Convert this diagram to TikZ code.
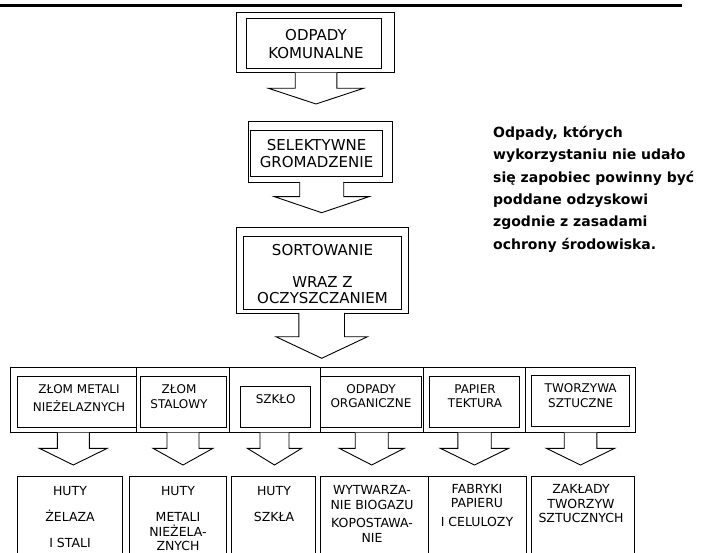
\documentclass[tikz,border=0pt]{standalone}
\usepackage{fontspec}
\setmainfont{DejaVu Sans}
\usetikzlibrary{calc,fit}

\tikzset{
  frame/.style={draw, line width=0.9pt, inner sep=0pt},
  bigtxt/.style={align=center, inner sep=0pt, font=\fontsize{15}{#1}\selectfont},
  bigtxt/.default=17,
  midtxt/.style={align=center, inner sep=0pt, font=\fontsize{12}{#1}\selectfont},
  midtxt/.default=14.5,
  smalltxt/.style={align=center, inner sep=0pt, font=\fontsize{12.5}{#1}\selectfont},
  smalltxt/.default=15,
  note/.style={align=left, inner sep=0pt, font=\bfseries\fontsize{14}{22.4}\selectfont},
  hollow/.style={draw, fill=white, line width=0.9pt, line join=miter},
}

% open block arrow: #1 box side it leaves, #2 tip, #3 stem half width,
% #4 wing half width, #5 head length
\newcommand{\hollowarrow}[5]{%
  \draw[hollow] ($(#2 |- #1)+(-#3,-0.5)$) -- ($(#2)+(-#3,-#5)$) -- ($(#2)+(-#4,-#5)$) -- (#2)
    -- ($(#2)+(#4,-#5)$) -- ($(#2)+(#3,-#5)$) -- ($(#2 |- #1)+(#3,-0.5)$);
}

\begin{document}
\begin{tikzpicture}[x=1pt,y=-1pt]
  \useasboundingbox (0,0) rectangle (704,553);
  \clip (0,0) rectangle (704,553);

  \draw[line width=3pt] (0,5.5) -- (682,5.5);

  % main chain
  \node[frame, fit={(236,12.7) (394.5,72.7)}] (komO) {};
  \node[frame, fit={(246.7,18.3) (381.7,68.3)}] (komI) {};
  \node[bigtxt=18.3] (kom) at (316,44.2) {ODPADY\\KOMUNALNE};

  \node[frame, fit={(248.3,121.7) (392.7,182)}] (selO) {};
  \node[frame, fit={(250,130) (382.7,176.7)}] (selI) {};
  \node[bigtxt=16.7] (sel) at (316.6,153.3) {SELEKTYWNE\\GROMADZENIE};

  \node[frame, fit={(236.7,227.3) (408.3,313)}] (sortO) {};
  \node[frame, fit={(243.3,236) (401.7,309)}] (sortI) {};
  \node[bigtxt=16.3] (sort) at (322.5,274) {SORTOWANIE\\[15.4pt]WRAZ Z\\OCZYSZCZANIEM};

  % fractions
  \node[frame, fit={(10.7,367.3) (136.7,432.7)}] (c1) {};
  \node[frame, fit={(136.7,367.3) (229.3,432.7)}] (c2) {};
  \node[frame, fit={(229.3,367.3) (320,432.7)}] (c3) {};
  \node[frame, fit={(320,367.3) (423.3,432.7)}] (c4) {};
  \node[frame, fit={(423.3,367.3) (525.7,432.7)}] (c5) {};
  \node[frame, fit={(525.7,367.3) (635,432.7)}] (c6) {};

  \node[frame, fit={(17.3,376.5) (136.7,427)}] (k1) {};
  \node[frame, fit={(140.7,376.5) (226,427)}] (k2) {};
  \node[frame, fit={(240.7,386) (310.7,427)}] (k3) {};
  \node[frame, fit={(320,376.5) (421.7,427)}] (k4) {};
  \node[frame, fit={(429.3,376.5) (519.3,427)}] (k5) {};
  \node[frame, fit={(531.7,375.5) (629.3,426.7)}] (k6) {};

  \node[midtxt] (kt1) at (79,397.8) {ZŁOM METALI\\[3.2pt]NIEŻELAZNYCH};
  \node[midtxt=15] (kt2) at (179,396.5) {ZŁOM\\STALOWY};
  \node[midtxt] (kt3) at (275.7,399.3) {SZKŁO};
  \node[midtxt] (kt4) at (371,396.2) {ODPADY\\ORGANICZNE};
  \node[midtxt] (kt5) at (475,396.2) {PAPIER\\TEKTURA};
  \node[midtxt] (kt6) at (580.7,395.8) {TWORZYWA\\SZTUCZNE};

  % recipients
  \node[frame, fit={(17.3,476.7) (122.7,570)}] (h1) {};
  \node[frame, fit={(129.3,476.7) (226.7,570)}] (h2) {};
  \node[frame, fit={(231.7,476.7) (315,570)}] (h3) {};
  \node[frame, fit={(320.7,476.7) (428.3,570)}] (h4) {};
  \node[frame, fit={(428.3,476.7) (526,570)}] (h5) {};
  \node[frame, fit={(531.7,476.7) (634,570)}] (h6) {};

  \node[smalltxt] (ht1) at (70,517) {HUTY\\[11.3pt]ŻELAZA\\[11.3pt]I STALI};
  \node[smalltxt=14.4] (ht2) at (178,518.3) {HUTY\\[12.2pt]METALI\\NIEŻELA-\\ZNYCH};
  \node[smalltxt] (ht3) at (274,504) {HUTY\\[11.6pt]SZKŁA};
  \node[smalltxt] (ht4) at (372,513.8) {WYTWARZA-\\NIE BIOGAZU\\[3.4pt]KOPOSTAWA-\\NIE};
  \node[smalltxt=14] (ht5) at (477,505.5) {FABRYKI\\PAPIERU\\[4.4pt]I CELULOZY};
  \node[smalltxt=14.5] (ht6) at (581,503.8) {ZAKŁADY\\TWORZYW\\SZTUCZNYCH};

  % arrow tips
  \coordinate (tip1) at (316,104);
  \coordinate (tip2) at (321.7,212.7);
  \coordinate (tip3) at (321.7,358.3);
  \coordinate (r1) at (73.3,465);
  \coordinate (r2) at (183,465);
  \coordinate (r3) at (274.5,465);
  \coordinate (r4) at (371.7,465);
  \coordinate (r5) at (474.5,465);
  \coordinate (r6) at (580.5,465);

  \hollowarrow{komO.south}{tip1}{20.8}{47.5}{15.7}
  \hollowarrow{selO.south}{tip2}{22}{47.2}{16}
  \hollowarrow{sortO.south}{tip3}{22.8}{45.8}{21.6}
  \hollowarrow{c1.south}{r1}{16}{34}{16.7}
  \hollowarrow{c2.south}{r2}{16}{30}{16.7}
  \hollowarrow{c3.south}{r3}{14.5}{27.2}{16.7}
  \hollowarrow{c4.south}{r4}{16.5}{32.5}{16.7}
  \hollowarrow{c5.south}{r5}{16.7}{34.2}{16.7}
  \hollowarrow{c6.south}{r6}{16.3}{34.2}{16.7}

  \node[note, anchor=north west] (note) at (493,126) {Odpady, których\\wykorzystaniu nie udało\\się zapobiec powinny być\\poddane odzyskowi\\zgodnie z zasadami\\ochrony środowiska.};
\end{tikzpicture}
\end{document}
